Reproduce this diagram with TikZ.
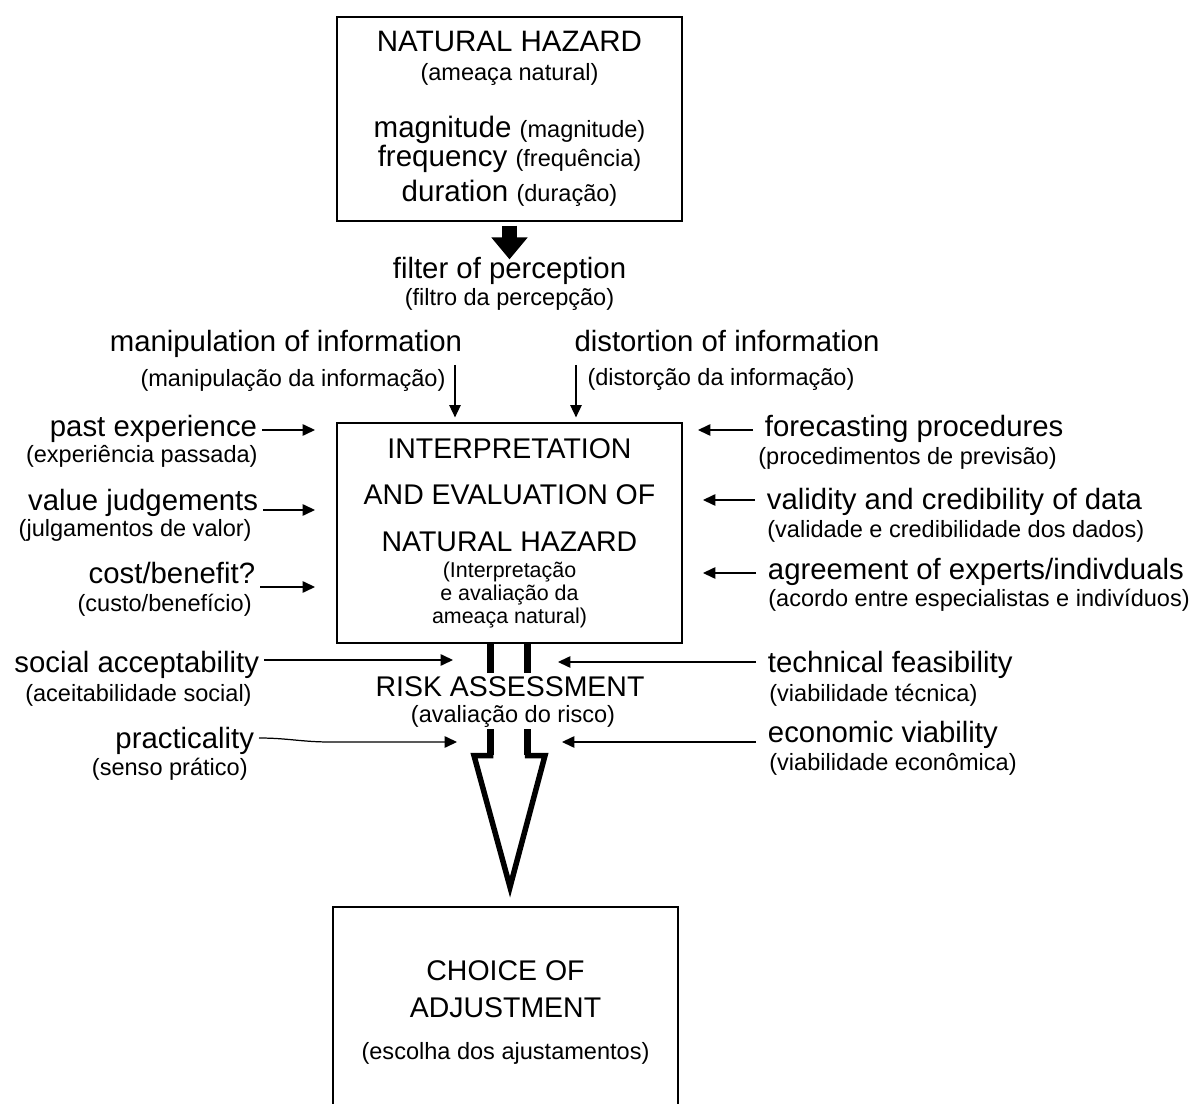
\documentclass[tikz,border=0pt]{standalone}
\usepackage{fontspec}
\setmainfont{Liberation Sans}
\usetikzlibrary{arrows.meta}

\newcommand\bigsz{\fontsize{16.7pt}{20pt}\selectfont}
\newcommand\smallsz{\fontsize{13.4pt}{16pt}\selectfont}
\newcommand\boxsub{\fontsize{12.2pt}{14pt}\selectfont}

\begin{document}
\begin{tikzpicture}[x=0.02cm, y=-0.02cm,
    arr/.style={draw, line width=0.7pt, -{Triangle[length=7pt,width=6.5pt]}},
    box/.style={draw, line width=0.7pt, align=center, inner sep=0pt, minimum width=6.9cm},
    lmain/.style={anchor=base east, inner sep=0pt, outer sep=2.8pt, font=\bigsz},
    lsub/.style={anchor=base east, inner sep=0pt, font=\smallsz},
    rmain/.style={anchor=base west, inner sep=0pt, outer sep=6.8pt, font=\bigsz},
    rsub/.style={anchor=base west, inner sep=0pt, font=\smallsz},
    cmain/.style={anchor=base, inner sep=0pt, font=\bigsz},
    csub/.style={anchor=base, inner sep=0pt, font=\smallsz},
    bar/.style={line width=0.14cm}]
    \useasboundingbox (0,0) rectangle (1204,1104);

    \node[box, minimum height=4.08cm, font={\fontsize{16.8pt}{16.5pt}\selectfont\lineskiplimit=-10pt}] (hazard) at (509.5,119)
        {NATURAL HAZARD\\
         {\smallsz (ameaça natural)}\\[15.9pt]
         magnitude {\smallsz (magnitude)}\\
         frequency {\smallsz (frequência)}\\[3.4pt]
         duration {\smallsz (duração)}};
    \node[cmain] (filter) at (509.5,279) {filter of perception};
    \node[csub] (filterpt) at (509.5,306) {(filtro da percepção)};
    \draw[line width=0.3cm, -{Triangle[length=0.44cm 0, width=0.7cm 0]}, shorten <=0.08cm, shorten >=-0.04cm] (hazard.south) -- (filter.north);

    \node[cmain] (manip) at (286,352) {manipulation of information};
    \node[csub] (manippt) at (293,387) {(manipulação da informação)};
    \node[cmain] (distort) at (727,352) {distortion of information};
    \node[csub] (distortpt) at (721,386) {(distorção da informação)};

    \node[box, minimum height=4.4cm, font={\fontsize{16.2pt}{26.7pt}\selectfont\lineskiplimit=-10pt}] (interp) at (509.5,533)
        {INTERPRETATION\\
         AND EVALUATION OF\\
         NATURAL HAZARD\\[-12pt]
         {\boxsub (Interpretação}\\[-13.7pt]
         {\boxsub e avaliação da}\\[-13.7pt]
         {\boxsub ameaça natural)}};

    \coordinate (mfrom) at (455,365);
    \coordinate (dfrom) at (576,365);
    \draw[arr, shorten >=0.1cm] (mfrom) -- (mfrom |- interp.north);
    \draw[arr, shorten >=0.1cm] (dfrom) -- (dfrom |- interp.north);

    \node[lmain] (past) at (262,437) {past experience};
    \node[lsub] (pastpt) at (258,463) {(experiência passada)};
    \node[lmain] (value) at (263,511) {value judgements};
    \node[lsub] (valuept) at (252,537) {(julgamentos de valor)};
    \node[lmain] (cost) at (260,584) {cost/benefit?};
    \node[lsub] (costpt) at (252,612) {(custo/benefício)};
    \node[lmain] (social) at (264,673) {social acceptability};
    \node[lsub] (socialpt) at (252,702) {(aceitabilidade social)};
    \node[lmain] (pract) at (259,748) {practicality};
    \node[lsub] (practpt) at (248,775) {(senso prático)};

    \coordinate (pastend) at (315,430);
    \coordinate (valueend) at (315,510);
    \coordinate (costend) at (315,587);
    \coordinate (socialend) at (453,660);
    \coordinate (practend) at (457,742);
    \draw[arr] (past.east |- pastend) -- (pastend);
    \draw[arr] (value.east |- valueend) -- (valueend);
    \draw[arr] (cost.east |- costend) -- (costend);
    \draw[arr] (social.east |- socialend) -- (socialend);
    \draw[arr] (pract.east |- 0,738) to[out=0,in=180] (330,742) -- (practend);

    \node[rmain] (forecast) at (753,437) {forecasting procedures};
    \node[rsub] (forecastpt) at (758,465) {(procedimentos de previsão)};
    \node[rmain] (valid) at (755,510) {validity and credibility of data};
    \node[rsub] (validpt) at (767,538) {(validade e credibilidade dos dados)};
    \node[rmain] (agree) at (756,580) {agreement of experts/indivduals};
    \node[rsub] (agreept) at (768,607) {(acordo entre especialistas e indivíduos)};
    \node[rmain] (tech) at (756,673) {technical feasibility};
    \node[rsub] (techpt) at (769,702) {(viabilidade técnica)};
    \node[rmain] (econ) at (756,743) {economic viability};
    \node[rsub] (econpt) at (769,770) {(viabilidade econômica)};

    \coordinate (forecastend) at (698,430);
    \coordinate (validend) at (703,500);
    \coordinate (agreeend) at (703,573);
    \coordinate (techend) at (558,662);
    \coordinate (econend) at (562,742);
    \draw[arr] (forecast.west |- forecastend) -- (forecastend);
    \draw[arr] (valid.west |- validend) -- (validend);
    \draw[arr] (agree.west |- agreeend) -- (agreeend);
    \draw[arr] (tech.west |- techend) -- (techend);
    \draw[arr] (econ.west |- econend) -- (econend);

    \node[cmain, font=\fontsize{16.2pt}{20pt}\selectfont] (risk) at (510,697) {RISK ASSESSMENT};
    \node[csub] (riskpt) at (513,723) {(avaliação do risco)};

    \draw[bar] (490.5,643) -- (490.5,673) (527.5,643) -- (527.5,673);
    \draw[bar] (490.5,729) -- (490.5,755) (527.5,729) -- (527.5,755);
    \draw[line width=0.11cm] (490.5,729) -- (490.5,755.5) -- (474,755.5) -- (510,887)
        -- (545,755.5) -- (527.5,755.5) -- (527.5,729);

    \node[box, minimum height=4.22cm, font={\fontsize{16.2pt}{21.6pt}\selectfont}] (choice) at (505.5,1012.5)
        {CHOICE OF\\
         ADJUSTMENT\\[2.3pt]
         {\smallsz (escolha dos ajustamentos)}};
\end{tikzpicture}
\end{document}
